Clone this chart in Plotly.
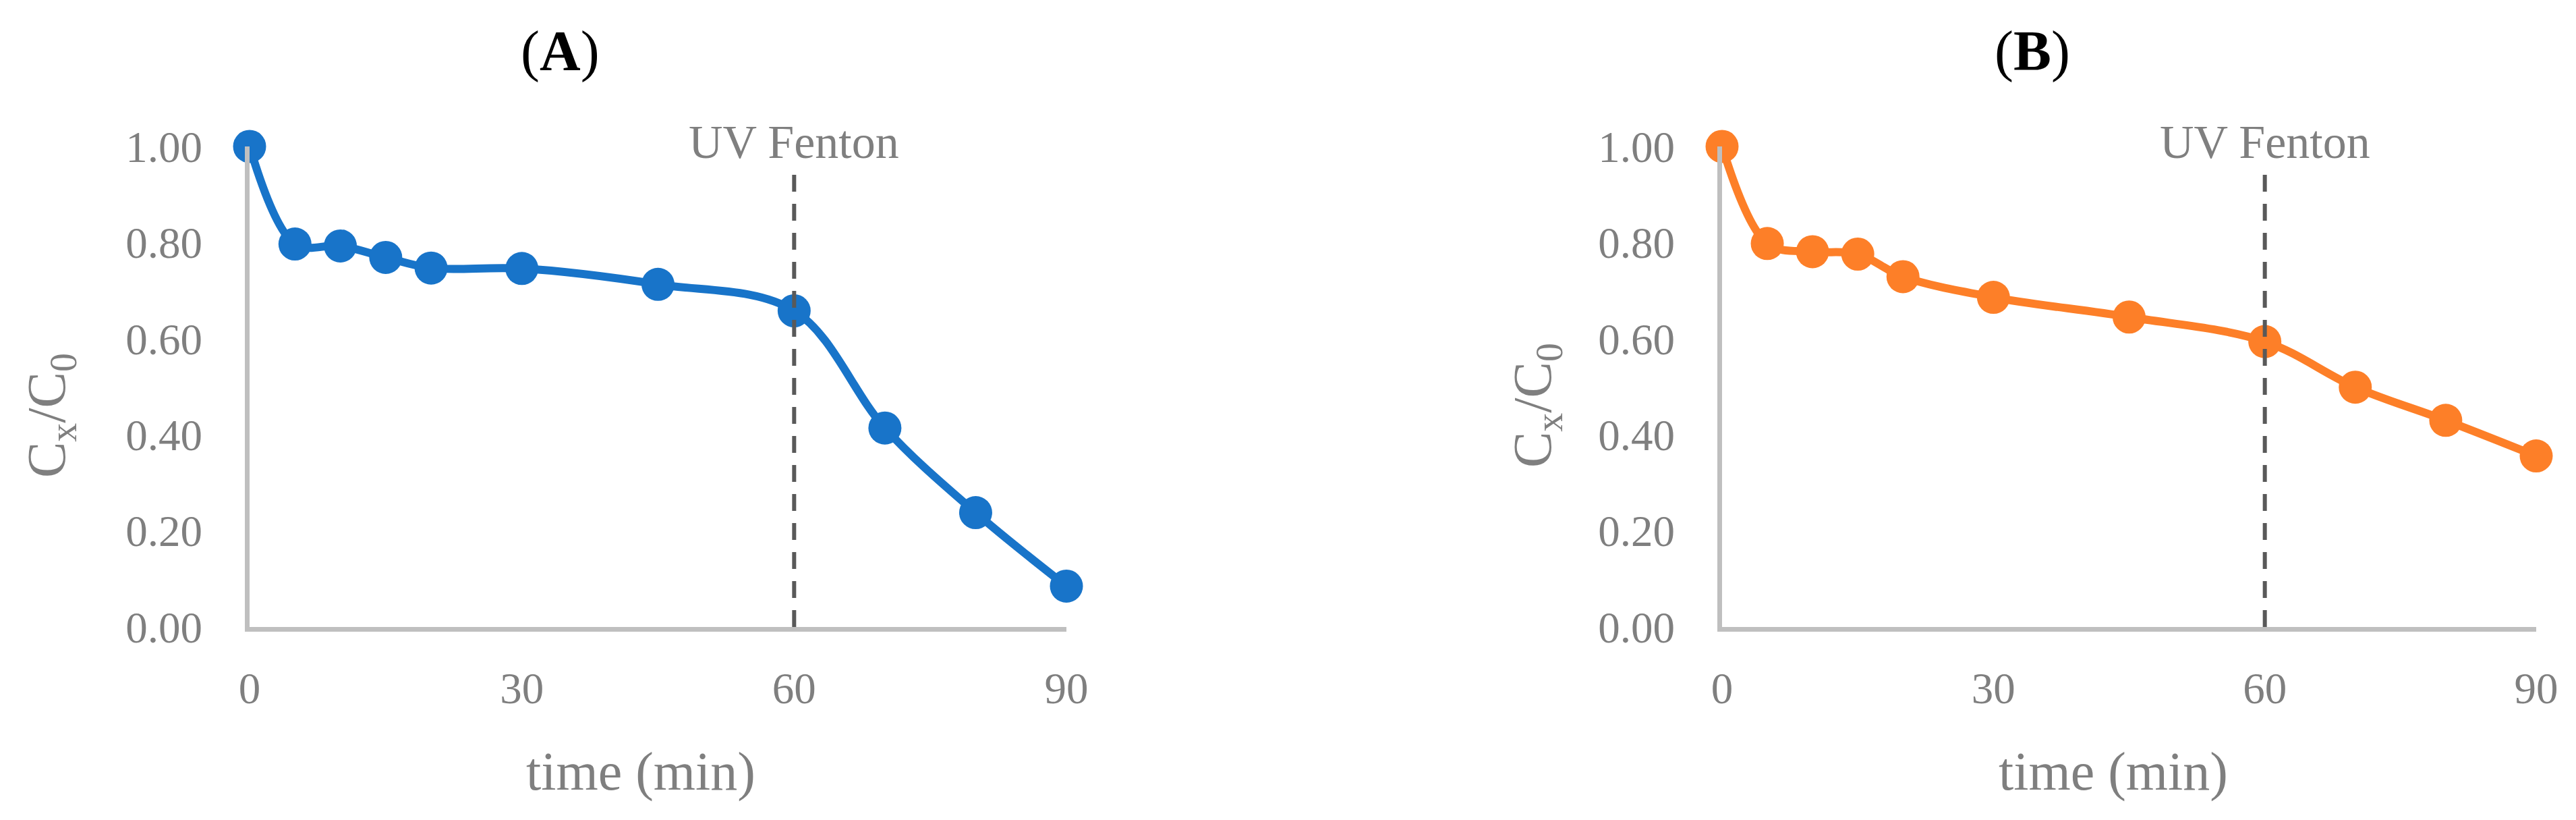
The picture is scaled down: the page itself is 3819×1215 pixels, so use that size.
import plotly.graph_objects as go

time_min = [0, 5, 10, 15, 20, 30, 45, 60, 70, 80, 90]
ratio_a = [1.00, 0.797, 0.793, 0.769, 0.747, 0.746, 0.713, 0.658, 0.414, 0.238, 0.085]
ratio_b = [1.00, 0.798, 0.781, 0.776, 0.729, 0.686, 0.645, 0.594, 0.499, 0.430, 0.356]
x_ticks = [0, 30, 60, 90]
y_ticks = [0.0, 0.2, 0.4, 0.6, 0.8, 1.0]
uv_time = 60
panel_titles = ["(<b>A</b>)", "(<b>B</b>)"]

FONT = "Liberation Serif"
GRAY = "#7f7f7f"
BLUE = "#1874c9"
ORANGE = "#fd7f28"
W, H, OFF = 3819, 1215, 8  # page body margin offset


def px(xp):
    return (xp - OFF) / W


def py(yp):
    return 1 - (yp - OFF) / H


fig = go.Figure()
fig.add_trace(go.Scatter(x=time_min, y=ratio_a, mode="lines+markers",
                         line=dict(color=BLUE, width=12, shape="spline"),
                         marker=dict(color=BLUE, size=49, line=dict(width=0)),
                         cliponaxis=False, xaxis="x", yaxis="y", showlegend=False))
fig.add_trace(go.Scatter(x=time_min, y=ratio_b, mode="lines+markers",
                         line=dict(color=ORANGE, width=12, shape="spline"),
                         marker=dict(color=ORANGE, size=49, line=dict(width=0)),
                         cliponaxis=False, xaxis="x2", yaxis="y2", showlegend=False))

tickfont = dict(family=FONT, size=65, color=GRAY)
xcommon = dict(range=[0, 90], tickvals=x_ticks, showline=True, linecolor="#bfbfbf",
               linewidth=7, showgrid=False, zeroline=False, ticks="outside",
               ticklen=28, tickcolor="rgba(0,0,0,0)", tickfont=tickfont, automargin=False)
ycommon = dict(range=[0, 1], tickvals=y_ticks, tickformat=".2f", showline=True,
               linecolor="#bfbfbf", linewidth=7, showgrid=False, zeroline=False,
               ticks="outside", ticklen=50, tickcolor="rgba(0,0,0,0)", tickfont=tickfont,
               automargin=False)

ydom = [py(929), py(217)]
fig.update_layout(
    template="none",
    width=W, height=H, margin=dict(l=0, r=0, t=0, b=0, pad=0),
    plot_bgcolor="white", paper_bgcolor="white",
    xaxis=dict(domain=[px(370), px(1581)], anchor="y", **xcommon),
    yaxis=dict(domain=ydom, anchor="x", **ycommon),
    xaxis2=dict(domain=[px(2553), px(3760)], anchor="y2", **xcommon),
    yaxis2=dict(domain=ydom, anchor="x2", **ycommon),
)

for xr, yr in [("x", "y"), ("x2", "y2")]:
    fig.add_shape(type="line", xref=xr, yref=yr, x0=uv_time, x1=uv_time, y0=0, y1=0.966,
                  line=dict(color="#595959", width=6, dash="25px,18px"), layer="above")
    fig.add_annotation(text="UV Fenton", xref=xr, yref="paper", x=uv_time, y=py(210),
                       showarrow=False, xanchor="center", yanchor="middle",
                       font=dict(family=FONT, size=70, color=GRAY))

title_x = [830, 3013]
xt_x = [950, 3133]
yt_x = [75, 2278]
yt_y = [616, 601]
for i in range(2):
    fig.add_annotation(text=panel_titles[i], xref="paper", yref="paper",
                       x=px(title_x[i]), y=py(76),
                       showarrow=False, xanchor="center", yanchor="middle",
                       font=dict(family=FONT, size=84, color="black"))
    fig.add_annotation(text="time (min)", xref="paper", yref="paper",
                       x=px(xt_x[i]), y=py(1143),
                       showarrow=False, xanchor="center", yanchor="middle",
                       font=dict(family=FONT, size=80, color=GRAY))
    fig.add_annotation(text="C<sub>x</sub>/C<sub>0</sub>", xref="paper", yref="paper",
                       x=px(yt_x[i]), y=py(yt_y[i]), textangle=-90,
                       showarrow=False, xanchor="center", yanchor="middle",
                       font=dict(family=FONT, size=80, color=GRAY))

fig.write_html("out.html")
